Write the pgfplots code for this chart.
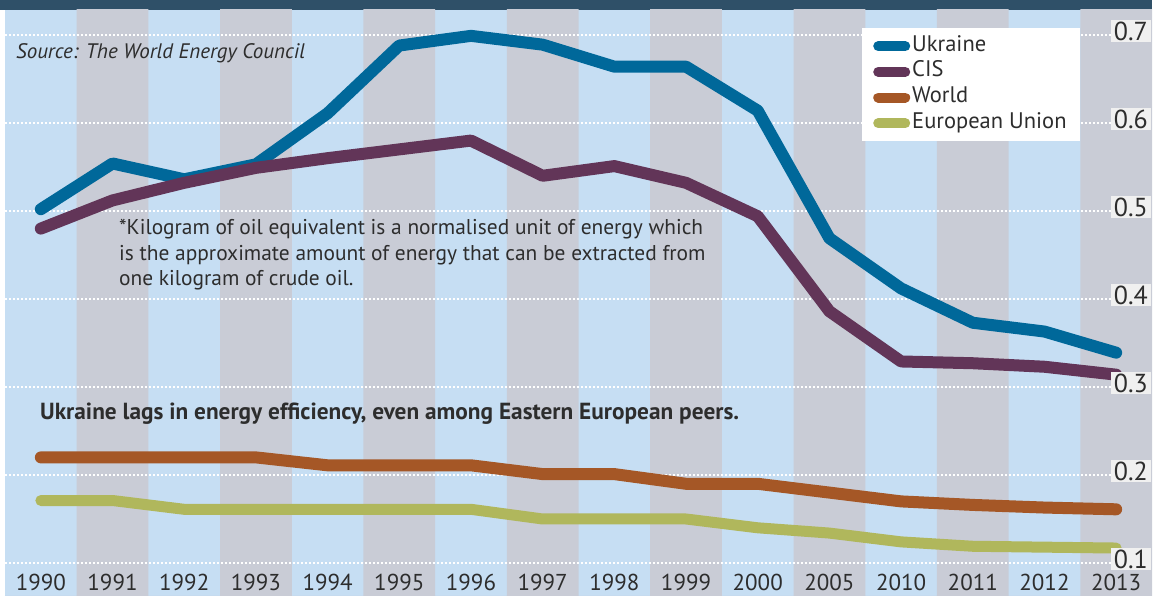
\documentclass[border=0pt]{standalone}
\usepackage{pgfplots}
\pgfplotsset{compat=1.18}
\usepackage{fontspec}
\setmainfont{PT Sans}
\definecolor{ukr}{RGB}{0,104,154}
\definecolor{cis}{RGB}{98,53,88}
\definecolor{world}{RGB}{165,87,38}
\definecolor{eu}{RGB}{176,183,92}
\definecolor{stripeblue}{RGB}{198,222,243}
\definecolor{stripegray}{RGB}{201,204,214}
\definecolor{topbar}{RGB}{47,80,104}
\definecolor{textgray}{RGB}{45,45,45}
\definecolor{tickbg}{RGB}{240,240,240}
\begin{document}
\begin{tikzpicture}
\useasboundingbox (0,0) rectangle (1166pt,596pt);
\fill[topbar] (0pt,586pt) rectangle (1152pt,596pt);
\begin{axis}[
  axis on top,
  at={(5pt,0pt)}, anchor=south west,
  scale only axis, width=1147pt, height=586pt,
  xmin=-0.5, xmax=15.5, ymin=0.0625, ymax=0.7284,
  axis background/.style={fill=stripeblue},
  axis line style={draw=none},
  major tick style={draw=none},
  xtick={0,...,15},
  xticklabels={1990,1991,1992,1993,1994,1995,1996,1997,1998,1999,2000,2005,2010,2011,2012,2013},
  xticklabel style={anchor=base, yshift=5pt, font=\fontsize{23}{26}\selectfont, text=textgray},
  ytick={0.1,0.2,0.3,0.4,0.5,0.6,0.7},
  yticklabels={0.1,0.2,0.3,0.4,0.5,0.6,0.7},
  yticklabel pos=right,
  yticklabel style={anchor=east, xshift=-1pt, yshift=4pt, fill=tickbg, text=textgray, font=\fontsize{26}{28}\selectfont, inner xsep=3pt, inner ysep=2pt},
  legend style={at={(0.7472,0.9693)}, anchor=north west, draw=none, fill=white,
    font=\fontsize{22.5}{26}\selectfont, text=textgray,
    inner xsep=11pt, inner ysep=8pt, row sep=5.7pt,
    nodes={inner ysep=0pt, text height=15pt, text depth=5pt},
    /tikz/every even column/.append style={column sep=6pt}},
  legend cell align=left,
  legend image code/.code={\draw[#1, line width=10pt, line cap=round] (0pt,0pt) -- (27pt,0pt);},
]
\addplot[ybar interval, fill=stripegray, draw=none, forget plot]
  coordinates {(-0.5,0)(0.5,1)(1.5,0)(2.5,1)(3.5,0)(4.5,1)(5.5,0)(6.5,1)(7.5,0)(8.5,1)(9.5,0)(10.5,1)(11.5,0)(12.5,1)(13.5,0)(14.5,1)(15.5,0)};
\pgfplotsinvokeforeach{0.1,0.2,0.3,0.4,0.5,0.6,0.7}{
  \draw[white, line width=2.6pt, dash pattern=on 2.4pt off 1.6pt] (axis cs:-0.5,#1) -- (axis cs:15.5,#1);
}
\addplot[ukr, line width=12pt, line join=round, line cap=round] coordinates {(0,0.502)(1,0.554)(2,0.536)(3,0.553)(4,0.611)(5,0.688)(6,0.699)(7,0.689)(8,0.664)(9,0.664)(10,0.614)(11,0.469)(12,0.412)(13,0.373)(14,0.363)(15,0.339)};
\addlegendentry{Ukraine}
\addplot[cis, line width=12pt, line join=round, line cap=round] coordinates {(0,0.480)(1,0.512)(2,0.532)(3,0.549)(4,0.560)(5,0.570)(6,0.580)(7,0.540)(8,0.551)(9,0.532)(10,0.494)(11,0.386)(12,0.329)(13,0.327)(14,0.323)(15,0.314)};
\addlegendentry{CIS}
\addplot[world, line width=12pt, line join=round, line cap=round] coordinates {(0,0.220)(1,0.220)(2,0.220)(3,0.220)(4,0.211)(5,0.211)(6,0.211)(7,0.201)(8,0.201)(9,0.190)(10,0.190)(11,0.180)(12,0.170)(13,0.166)(14,0.163)(15,0.161)};
\addlegendentry{World}
\addplot[eu, line width=11pt, line join=round, line cap=round] coordinates {(0,0.171)(1,0.171)(2,0.161)(3,0.161)(4,0.161)(5,0.161)(6,0.161)(7,0.150)(8,0.150)(9,0.150)(10,0.140)(11,0.134)(12,0.124)(13,0.119)(14,0.118)(15,0.117)};
\addlegendentry{European Union}
\end{axis}
\node[anchor=base west, text=textgray, font=\fontsize{21}{24}\selectfont\itshape, inner sep=0pt] at (16pt,537pt) {Source: The World Energy Council};
\node[anchor=base west, text=textgray, font=\fontsize{21.4}{24}\selectfont, inner sep=0pt] at (119pt,361pt) {*Kilogram of oil equivalent is a normalised unit of energy which};
\node[anchor=base west, text=textgray, font=\fontsize{21.4}{24}\selectfont, inner sep=0pt] at (119pt,335pt) {is the approximate amount of energy that can be extracted from};
\node[anchor=base west, text=textgray, font=\fontsize{21.4}{24}\selectfont, inner sep=0pt] at (119pt,310pt) {one kilogram of crude oil.};
\node[anchor=base west, text=textgray, font=\fontsize{23.3}{26}\selectfont\bfseries, inner sep=0pt] at (40pt,176pt) {Ukraine lags in energy efficiency, even among Eastern European peers.};
\end{tikzpicture}
\end{document}
